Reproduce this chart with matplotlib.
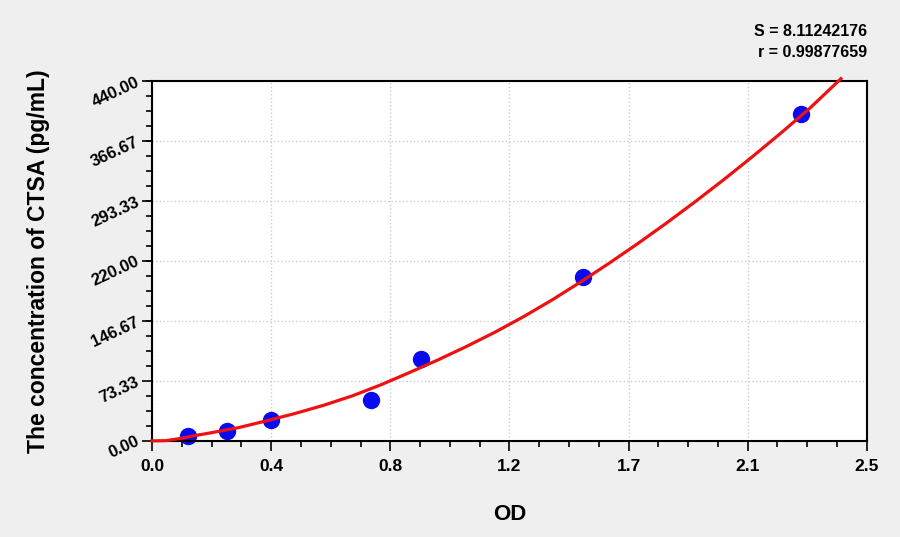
import numpy as np
import matplotlib.pyplot as plt
from matplotlib.ticker import FixedLocator, FixedFormatter, AutoMinorLocator

plt.rcParams['font.family'] = ['Liberation Sans', 'DejaVu Sans']

# standard points (OD, concentration)
od_pts = [0.126, 0.262, 0.416, 0.766, 0.941, 1.507, 2.269]
conc_pts = [6.25, 12.5, 25, 50, 100, 200, 400]

# fitted curve
curve_od = [0.0, 0.05, 0.1, 0.15, 0.2, 0.3, 0.4, 0.5, 0.6, 0.7, 0.8, 0.9,
            1.0, 1.1, 1.2, 1.3, 1.4, 1.5, 1.6, 1.7, 1.8, 1.9, 2.0, 2.1,
            2.2, 2.3, 2.41]
curve_conc = [0.0, 0.3, 3.0, 6.5, 9.5, 16, 24.5, 33.5, 43.5, 55, 68.5, 83.5,
              99, 115.5, 133, 152, 172.5, 194.5, 217.5, 241.5, 266.5, 292.5, 319.5, 347.5,
              376.5, 406.5, 443]

x_ticks = [0.0, 2.5 / 6, 5.0 / 6, 1.25, 10.0 / 6, 12.5 / 6, 2.5]
x_labels = ['0.0', '0.4', '0.8', '1.2', '1.7', '2.1', '2.5']
y_ticks = [0.0, 73.33, 146.67, 220.0, 293.33, 366.67, 440.0]
y_labels = ['0.00', '73.33', '146.67', '220.00', '293.33', '366.67', '440.00']

bg = '#efefef'
fig = plt.figure(figsize=(9, 5.37), dpi=100, facecolor=bg)
ax = fig.add_axes([0.169, 0.179, 0.794, 0.670])
ax.set_facecolor('white')

ax.plot(curve_od, curve_conc, color='#ee1111', lw=2.3, clip_on=False, zorder=3)
ax.plot(od_pts, conc_pts, 'o', color='#0a0af0', ms=11.5, zorder=2, clip_on=False)

ax.set_xlim(0, 2.5)
ax.set_ylim(0, 440)

ax.xaxis.set_major_locator(FixedLocator(x_ticks))
ax.xaxis.set_major_formatter(FixedFormatter(x_labels))
ax.yaxis.set_major_locator(FixedLocator(y_ticks))
ax.yaxis.set_major_formatter(FixedFormatter(y_labels))
ax.xaxis.set_minor_locator(AutoMinorLocator(4))
ax.yaxis.set_minor_locator(AutoMinorLocator(4))

ax.tick_params(which='major', direction='out', length=7, width=1.2, color='black')
ax.tick_params(which='minor', direction='out', length=4, width=1.2, color='black')
ax.tick_params(axis='x', which='major', labelsize=12.5, pad=6)
ax.tick_params(axis='y', which='major', labelsize=12, pad=3)
for lab in ax.get_xticklabels():
    lab.set_fontweight('bold')
for lab in ax.get_yticklabels():
    lab.set_fontweight('bold')
    lab.set_rotation(25)
    lab.set_rotation_mode('anchor')
    lab.set_ha('right')
    lab.set_va('center')

ax.grid(True, which='major', color='#cccccc', linestyle=':', linewidth=1)
ax.set_axisbelow(True)
for sp in ax.spines.values():
    sp.set_linewidth(1.5)
    sp.set_color('black')

ax.set_xlabel('OD', fontsize=16, fontweight='bold', labelpad=22)
ax.set_ylabel('The concentration of CTSA (pg/mL)', fontsize=16.5, fontweight='bold', labelpad=28)

fig.text(0.964, 0.942, 'S = 8.11242176', ha='right', va='center', fontsize=11.5, fontweight='bold')
fig.text(0.964, 0.903, 'r = 0.99877659', ha='right', va='center', fontsize=11.5, fontweight='bold')

fig.savefig('out.png', dpi=100, facecolor=bg)
